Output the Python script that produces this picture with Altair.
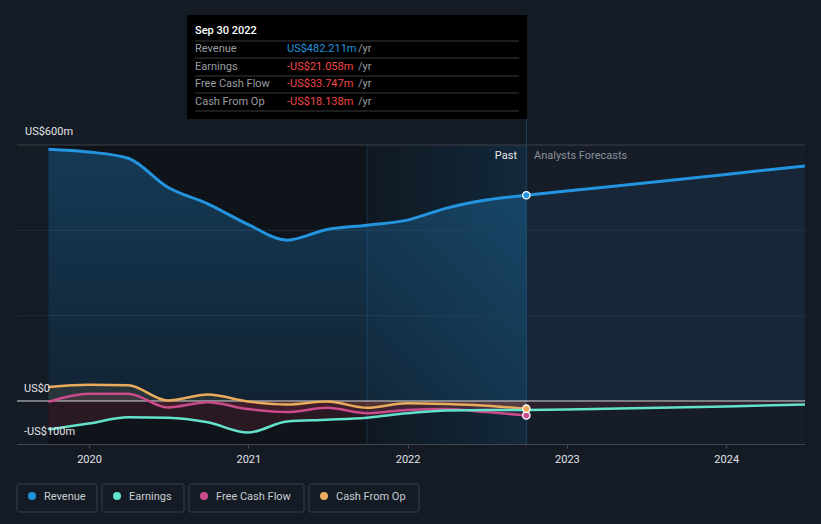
import altair as alt
import pandas as pd

# ---------------- data ----------------
series_names = ["Revenue", "Earnings", "Free Cash Flow", "Cash From Op"]
series_colors = ["#2394DF", "#62E1CB", "#C94B8C", "#E8AC5C"]

past_dates = ["2019-09-30", "2019-12-31", "2020-03-31", "2020-06-30", "2020-09-30",
              "2020-12-31", "2021-03-31", "2021-06-30", "2021-09-30", "2021-12-31",
              "2022-03-31", "2022-06-30", "2022-09-30"]
revenue_past = [590, 583.5, 569, 501, 462, 414, 377, 402, 412, 424, 452, 471, 482.211]
earnings_past = [-67, -53, -38, -39, -50, -74, -48, -44, -39, -29, -22, -21, -21.058]
fcf_past = [-2, 17, 17, -15, -3, -19, -26, -16, -29, -21, -19, -26, -33.747]
cfo_past = [33, 38, 37, 1, 15, -1, -8, -1, -16, -5, -7, -11, -18.138]

forecast_dates = ["2022-09-30", "2022-12-31", "2023-12-31", "2024-06-30"]
revenue_forecast = [482.211, 492, 531, 551]
earnings_forecast = [-21.058, -20, -13, -8]

x_domain_dates = ["2019-07-20", "2024-06-30"]
last_year_start = "2021-09-30"
year_ticks = [2020, 2021, 2022, 2023, 2024]
y_domain = [-100.8, 600]
grid_values = [200, 400]
top_grid = [600]
y_label_texts = ["US$600m", "US$0", "-US$100m"]
tooltip_title = "Sep 30 2022"
past_label = "Past"
forecast_label = "Analysts Forecasts"


def frac_year(s):
    d = pd.Timestamp(s)
    start = pd.Timestamp(year=d.year, month=1, day=1)
    end = pd.Timestamp(year=d.year + 1, month=1, day=1)
    return d.year + (d - start) / (end - start)


def series_df(dates, values):
    return pd.DataFrame({"x": [frac_year(d) for d in dates], "y": values})


xd = [frac_year(d) for d in x_domain_dates]
past_start = frac_year(past_dates[0])
past_end = frac_year(past_dates[-1])
ly_start = frac_year(last_year_start)

# ---------------- layout ----------------
W, H = 788, 299
BG = "#151B24"
one = pd.DataFrame({"k": [0]})

xscale = alt.Scale(domain=xd, nice=False, zero=False)
yscale = alt.Scale(domain=y_domain, nice=False, zero=False)
xaxis = alt.Axis(values=year_ticks, format="d", grid=False, domainColor="#40464F",
                 tickColor="#40464F", tickSize=4, labelColor="#E2E4E8", labelFont="Roboto",
                 labelFontSize=11, labelPadding=5, title=None, labelFlush=False)
X = alt.X("x:Q", scale=xscale, axis=xaxis)
Y = alt.Y("y:Q", scale=yscale, axis=None)

layers = []

# background regions
def region(x0, x1, **kw):
    df = pd.DataFrame({"x": [x0], "x2": [x1]})
    return alt.Chart(df).mark_rect(**kw).encode(
        x=X, x2="x2:Q", y=alt.value(0), y2=alt.value(H))

layers.append(region(past_start, past_end, color="#0F131A"))
layers.append(region(ly_start, past_end, color=alt.Gradient(
    gradient="linear",
    stops=[alt.GradientStop(color="rgba(35,148,223,0.04)", offset=0),
           alt.GradientStop(color="rgba(35,148,223,0.17)", offset=1)],
    x1=0, x2=1, y1=0, y2=0)))
layers.append(region(past_end, xd[1], color="#161D28"))

# gridlines
layers.append(alt.Chart(pd.DataFrame({"y": grid_values})).mark_rule(
    color="#222B36", strokeWidth=1).encode(y=Y, x=alt.value(0), x2=alt.value(W)))
layers.append(alt.Chart(pd.DataFrame({"y": top_grid})).mark_rule(
    color="#3C4149", strokeWidth=1).encode(y=Y, x=alt.value(0), x2=alt.value(W)))

# vertical separators
layers.append(alt.Chart(pd.DataFrame({"x": [ly_start]})).mark_rule(
    color="#1B3046", strokeWidth=1).encode(x=X, y=alt.value(0), y2=alt.value(H)))
layers.append(alt.Chart(pd.DataFrame({"x": [past_end]})).mark_rule(
    color="#1B4566", strokeWidth=1).encode(x=X, y=alt.value(-26), y2=alt.value(H)))

rev_p = series_df(past_dates, revenue_past)
rev_f = series_df(forecast_dates, revenue_forecast)
ear_p = series_df(past_dates, earnings_past)
ear_f = series_df(forecast_dates, earnings_forecast)
fcf_p = series_df(past_dates, fcf_past)
cfo_p = series_df(past_dates, cfo_past)

# revenue areas
layers.append(alt.Chart(rev_p).mark_area(interpolate="monotone", color=alt.Gradient(
    gradient="linear",
    stops=[alt.GradientStop(color="rgba(35,148,223,0.30)", offset=0),
           alt.GradientStop(color="rgba(35,148,223,0.13)", offset=1)],
    x1=0, x2=0, y1=0, y2=1)).encode(x=X, y=Y, y2=alt.datum(0)))
layers.append(alt.Chart(rev_f).mark_area(interpolate="monotone", color="#2394DF",
                                         opacity=0.09).encode(x=X, y=Y, y2=alt.datum(0)))

# small series areas
layers.append(alt.Chart(ear_p).mark_area(interpolate="monotone", color="#E0405A",
                                         opacity=0.13).encode(x=X, y=Y, y2=alt.datum(0)))
layers.append(alt.Chart(ear_f).mark_area(interpolate="monotone", color="#E0405A",
                                         opacity=0.11).encode(x=X, y=Y, y2=alt.datum(0)))
layers.append(alt.Chart(fcf_p).mark_area(interpolate="monotone", color="#D0455E",
                                         opacity=0.13).encode(x=X, y=Y, y2=alt.datum(0)))
layers.append(alt.Chart(cfo_p).mark_area(interpolate="monotone", color="#C9A060",
                                         opacity=0.13).encode(x=X, y=Y, y2=alt.datum(0)))

# zero line
layers.append(alt.Chart(pd.DataFrame({"y": [0]})).mark_rule(
    color="#D8D8D8", strokeWidth=1).encode(y=Y, x=alt.value(0), x2=alt.value(W)))

# lines
def line(df, color, w=2.5):
    return alt.Chart(df).mark_line(interpolate="monotone", color=color,
                                   strokeWidth=w).encode(x=X, y=Y)

layers.append(line(cfo_p, series_colors[3]))
layers.append(line(fcf_p, series_colors[2]))
layers.append(line(ear_p, series_colors[1]))
layers.append(line(ear_f, series_colors[1]))
layers.append(line(rev_p, series_colors[0], 3))
layers.append(line(rev_f, series_colors[0], 3))

# end points
def endpoint(val, color):
    return alt.Chart(pd.DataFrame({"x": [past_end], "y": [val]})).mark_circle(
        size=55, color=color, opacity=1, stroke="#FFFFFF", strokeWidth=1.3).encode(x=X, y=Y)

layers.append(endpoint(fcf_past[-1], series_colors[2]))
layers.append(endpoint(cfo_past[-1], series_colors[3]))
layers.append(endpoint(revenue_past[-1], series_colors[0]))

# text helper
def txt(s, x, y, color="#E2E4E8", size=11, align="left", weight="normal"):
    return alt.Chart(one).mark_text(font="Roboto", fontSize=size, color=color, align=align,
                                    baseline="middle", fontWeight=weight).encode(
        x=alt.value(x), y=alt.value(y), text=alt.value(s))

def hrule(x0, x1, y, color):
    return alt.Chart(one).mark_rule(color=color, strokeWidth=1).encode(
        x=alt.value(x0), x2=alt.value(x1), y=alt.value(y))

# y labels
layers.append(txt(y_label_texts[0], 8, -13))
layers.append(txt(y_label_texts[1], 7, 244))
layers.append(txt(y_label_texts[2], 7, 287))

# past / forecast labels
layers.append(txt(past_label, 500, 11, color="#E6E6E6", align="right"))
layers.append(txt(forecast_label, 517, 11, color="#8A9099"))

# tooltip box
layers.append(alt.Chart(one).mark_rect(color="#000000").encode(
    x=alt.value(170), x2=alt.value(510), y=alt.value(-130), y2=alt.value(-26)))
layers.append(txt(tooltip_title, 178, -114, color="#FFFFFF", weight=500))
for yy in [-104, -87, -69, -52, -34]:
    layers.append(hrule(178, 502, yy, "#3A3A3A"))

def money(v):
    return ("-" if v < 0 else "") + "US$" + f"{abs(v):.3f}m"

tip_values = [revenue_past[-1], earnings_past[-1], fcf_past[-1], cfo_past[-1]]
for i, (name, v) in enumerate(zip(series_names, tip_values)):
    yy = [-96, -78, -61, -43][i]
    layers.append(txt(name, 178, yy, color="#9A9DA2"))
    layers.append(txt(money(v), 270, yy, color="#2394DF" if v >= 0 else "#F0474C"))
    layers.append(txt("/yr", 341, yy, color="#9A9DA2"))

# legend
box_x = [(0, 80), (85, 167), (172, 287), (292, 402)]
for i, name in enumerate(series_names):
    x0, x1 = box_x[i]
    layers.append(alt.Chart(one).mark_rect(fillOpacity=0, stroke="#3A404A", strokeWidth=1,
                                           cornerRadius=2).encode(
        x=alt.value(x0), x2=alt.value(x1), y=alt.value(339), y2=alt.value(367)))
    layers.append(alt.Chart(one).mark_circle(size=64, color=series_colors[i], opacity=1).encode(
        x=alt.value(x0 + 15), y=alt.value(351)))
    layers.append(txt(name, x0 + 27, 352, color="#C9CCD1"))

chart = alt.layer(*layers).properties(
    width=W, height=H, autosize="none",
    padding={"left": 17, "top": 145, "right": 16, "bottom": 80},
    background=BG,
).configure_view(stroke=None)

chart.save("out.html", embed_options={"renderer": "svg", "actions": False})
